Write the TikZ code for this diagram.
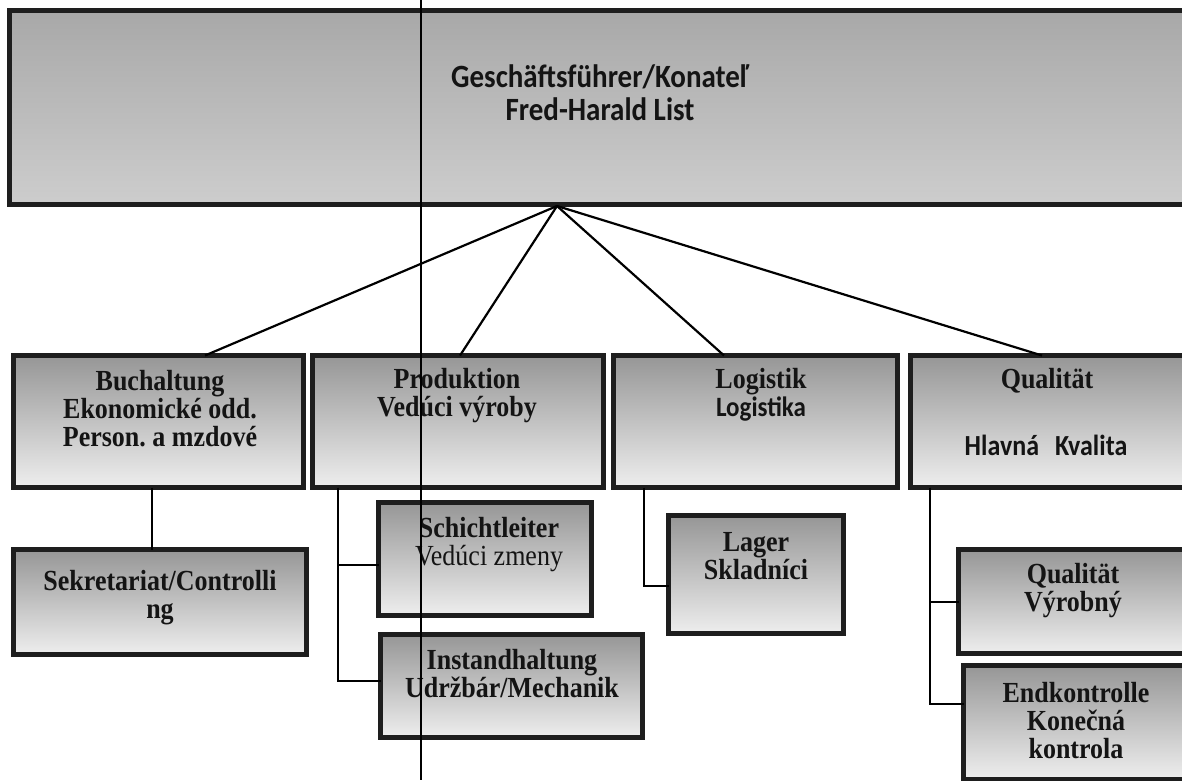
\documentclass[tikz,border=0pt]{standalone}
\usepackage{fontspec}
\usepackage{graphicx}
\setmainfont{Liberation Serif}
\newfontfamily\carlito{Carlito}
\usetikzlibrary{fit}
\frenchspacing
\newcommand\tl[1]{\smash{\scalebox{1}[1.12]{#1}}\vphantom{#1}}
\definecolor{bordc}{RGB}{30,30,30}
\definecolor{gtop}{RGB}{150,150,150}
\definecolor{gbot}{RGB}{238,238,238}
\definecolor{htop}{RGB}{168,168,168}
\definecolor{hbot}{RGB}{205,205,205}
\definecolor{txt}{RGB}{20,20,20}
\definecolor{faint}{RGB}{200,200,205}
\tikzset{
  box/.style={draw=bordc, line width=5pt, top color=gtop, bottom color=gbot, inner sep=0pt, outer sep=0pt},
  headbox/.style={box, top color=htop, bottom color=hbot},
  ser/.style={text=txt, align=center, font=\fontsize{26}{28}\selectfont\bfseries},
  sans/.style={text=txt, align=center, font=\fontsize{26}{28}\selectfont\carlito\bfseries},
  conn/.style={draw=black, line width=2.2pt},
  elbow/.style={draw=black, line width=2pt},
  scanline/.style={draw=black, line width=1.4pt},
  faintline/.style={draw=faint, line width=0.8pt}
}
\begin{document}
\begin{tikzpicture}[x=1pt,y=-1pt]
\useasboundingbox (0,0) rectangle (1182,780);
\fill[white] (0,0) rectangle (1182,780);

% boxes
\node[headbox, fit={(9.5,10.5) (1200,204.5)}] (top) {};
\node[box, fit={(13.5,355.5) (303.5,487.5)}] (buch) {};
\node[box, fit={(312.5,355.5) (603.5,487.5)}] (prod) {};
\node[box, fit={(613.5,355.5) (897.5,487.5)}] (logi) {};
\node[box, fit={(910.5,355.5) (1200,487.5)}] (qual) {};
\node[box, fit={(13.5,549.5) (306.5,654.5)}] (sekr) {};
\node[box, fit={(378.5,502.5) (591.5,615.5)}] (schi) {};
\node[box, fit={(380.5,634.5) (642.5,737.5)}] (inst) {};
\node[box, fit={(668.5,515.5) (843.5,633.5)}] (lager) {};
\node[box, fit={(958.5,549.5) (1200,653.5)}] (qv) {};
\node[box, fit={(963.5,665.5) (1200,779)}] (endk) {};

% connectors from the head
\coordinate (apex) at (557,206);
\draw[conn] (apex) -- ([xshift=46.5pt]buch.north);
\draw[conn] (apex) -- ([xshift=2pt]prod.north);
\draw[conn] (apex) -- ([xshift=-31.5pt]logi.north);
\draw[conn] (apex) -- ([xshift=-13.25pt]qual.north);

% sub connectors
\draw[elbow] ([xshift=-6.5pt]buch.south) -- ([xshift=-6.5pt]buch.south |- sekr.north);
\draw[elbow] ([xshift=-120pt]prod.south) |- ([yshift=-6pt]schi.west);
\draw[elbow] ([xshift=-120pt]prod.south) |- ([yshift=5pt]inst.west);
\draw[elbow] ([xshift=-111.5pt]logi.south) |- ([yshift=-11.5pt]lager.west);
\draw[elbow] ([xshift=-125.25pt]qual.south) |- (qv.west);
\draw[elbow] ([xshift=-125.25pt]qual.south) |- ([yshift=18pt]endk.west);

% texts
\node[text=txt, align=center, font=\fontsize{29}{33}\selectfont\carlito\bfseries] (topt) at (600,93.5) {\tl{Geschäftsführer/Konateľ}\\\tl{Fred-Harald List}};
\node[ser] (bucht) at (160,410) {\tl{Buchaltung}\\\tl{Ekonomické odd.}\\\tl{Person. a mzdové}};
\node[ser] (prodt) at (457,396) {\tl{Produktion}\\\tl{Vedúci výroby}};
\node[ser] (logit) at (761,396) {\tl{Logistik}\\\tl{\fontsize{25}{28}\selectfont\carlito\bfseries Logistika}};
\node[ser] (qualt1) at (1047,382) {\tl{Qualität}};
\node[sans] (qualt2) at (1046,446) {\tl{Hlavná\hspace{16pt}Kvalita}};
\node[ser] (sekrt) at (160,598) {\tl{Sekretariat/Controlli}\\\tl{ng}};
\node[ser] (schit) at (489,545) {\tl{Schichtleiter}\\\tl{\mdseries Vedúci zmeny}};
\node[ser] (instt) at (512,675) {\tl{Instandhaltung}\\\tl{Udržbár/Mechanik}};
\node[ser] (lagert) at (756,557) {\tl{Lager}\\\tl{Skladníci}};
\node[ser] (qvt) at (1073,591) {\tl{Qualität}\\\tl{Výrobný}};
\node[ser] (endkt) at (1076,722) {\tl{Endkontrolle}\\\tl{Konečná}\\\tl{kontrola}};

% scan lines
\coordinate (vt) at (421,0);
\coordinate (vb) at (421,780);
\draw[scanline] (vt) -- (vb);
\end{tikzpicture}
\end{document}
